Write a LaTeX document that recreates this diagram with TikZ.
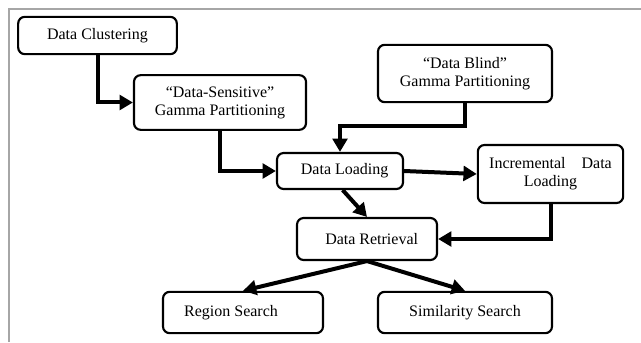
\documentclass[tikz,border=0pt]{standalone}
\usepackage{fontspec}
\setmainfont{Liberation Serif}
\usepackage{tikz}
\usetikzlibrary{arrows.meta}

\tikzset{
  box/.style={draw, line width=1.6pt, rounded corners=5pt, align=center,
    inner sep=0pt, font=\fontsize{12}{13.5}\selectfont},
  flow/.style={line width=3pt, -{Triangle[length=10pt,width=11pt]}}
}

\begin{document}
\begin{tikzpicture}[x=0.75pt,y=-0.75pt]
\useasboundingbox (0,0) rectangle (641,342);
% Frame
\draw[gray!70,line width=0.8pt] (9,342) -- (9,9) -- (641,9);

% Boxes
\node[box,minimum width=119pt,minimum height=28pt] (clus) at (97.5,35.5) {Data Clustering};
\node[box,minimum width=129pt,minimum height=41pt] (sens) at (220,102.5) {``Data-Sensitive''\\Gamma Partitioning};
\node[box,minimum width=130.5pt,minimum height=43pt] (blind) at (465,73.5) {``Data Blind''\\Gamma Partitioning};
\node[box,minimum width=94.5pt,minimum height=27pt] (load) at (340,171) {\hspace{7pt}Data Loading};
\node[box,minimum width=109pt,minimum height=43.5pt] (incr) at (550.5,174) {Incremental\quad Data\\Loading};
\node[box,minimum width=105pt,minimum height=31.5pt] (retr) at (367,239) {\hspace{7pt}Data Retrieval};
\node[box,minimum width=120pt,minimum height=31pt] (region) at (243,312.5) {Region Search\hspace{18pt}};
\node[box,minimum width=130.5pt,minimum height=31pt] (simil) at (465,312.5) {Similarity Search};

% Arrows
\coordinate (bend) at (465,126);
\draw[flow] (clus.south) |- (sens.west);
\draw[flow] (sens.south) |- (load.west);
\draw[flow] (blind.south) -- (bend) -| (load.north);
\draw[flow] (load.east) -- (incr.west);
\draw[flow] ([xshift=2pt]load.south) -- (retr.north);
\draw[flow] (incr.south) |- (retr.east);
\draw[flow] (retr.south) -- (region.north);
\draw[flow] (retr.south) -- (simil.north);
\end{tikzpicture}
\end{document}
